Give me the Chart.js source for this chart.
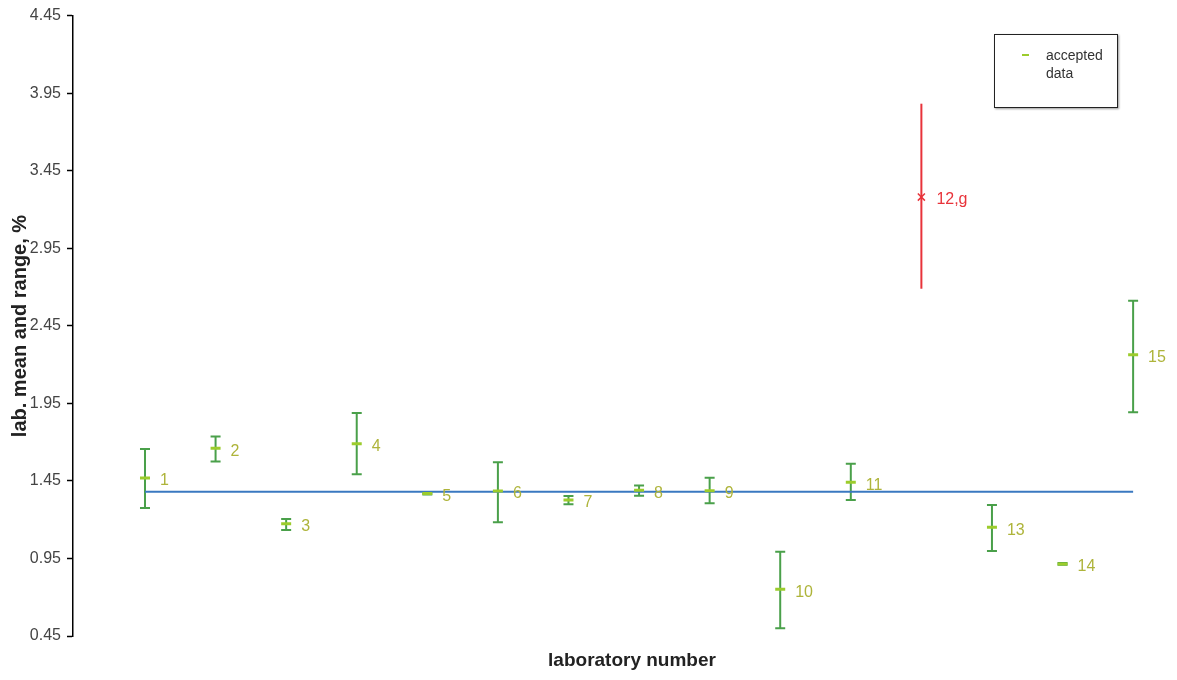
<!DOCTYPE html>
<html>
<head>
<meta charset="utf-8">
<script src="https://cdn.jsdelivr.net/npm/chart.js@4.4.1/dist/chart.umd.min.js"></script>
<style>
  body { margin: 0; background: #fff; }
  #wrap { position: relative; width: 1177px; height: 680px; }
  #legend {
    position: absolute; left: 994px; top: 34px; width: 122px; height: 72px;
    border: 1.5px solid #222; box-shadow: 1px 1px 2px #999; background: #fff;
    font: 14px "Liberation Sans", Arial, sans-serif; color: #333;
  }
  #legend .dash { position: absolute; left: 27px; top: 19px; width: 7px; height: 2px; background: #9ccc2c; }
  #legend .txt { position: absolute; left: 51px; top: 11px; line-height: 18px; }
</style>
</head>
<body>
<div id="wrap">
  <canvas id="chart" width="1177" height="680"></canvas>
  <div id="legend"><span class="dash"></span><span class="txt">accepted<br>data</span></div>
</div>
<script>
// lab results
const labs   = [1, 2, 3, 4, 5, 6, 7, 8, 9, 10, 11, 12, 13, 14, 15];
const means  = [1.469, 1.661, 1.173, 1.689, 1.368, 1.385, 1.327, 1.390, 1.387, 0.751, 1.442, 3.280, 1.151, 0.915, 2.263];
const lows   = [1.276, 1.575, 1.134, 1.493, 1.363, 1.184, 1.300, 1.355, 1.306, 0.500, 1.327, 2.689, 0.998, 0.910, 1.893];
const highs  = [1.655, 1.736, 1.205, 1.887, 1.373, 1.571, 1.353, 1.420, 1.471, 0.994, 1.560, 3.882, 1.295, 0.920, 2.611];
const pointLabels = ['1', '2', '3', '4', '5', '6', '7', '8', '9', '10', '11', '12,g', '13', '14', '15'];
const rejected = [12];
const grandMean = 1.38;
const yTicks = [0.45, 0.95, 1.45, 1.95, 2.45, 2.95, 3.45, 3.95, 4.45];

const GREEN = '#4aa04a';
const LIME = '#9ccc2c';
const RED = '#e8333a';
const FONT = '"Liberation Sans", Arial, sans-serif';

const accepted = labs.filter(l => !rejected.includes(l)).map(l => ({x: l, y: means[l - 1]}));
const outliers = rejected.map(l => ({x: l, y: means[l - 1]}));

// draws range bars + lab numbers using the chart scales
const errorBars = {
  id: 'errorBars',
  beforeDatasetsDraw(chart) {
    const {ctx, scales: {x, y}} = chart;
    ctx.save();
    labs.forEach((lab, i) => {
      const bad = rejected.includes(lab);
      const px = x.getPixelForValue(lab);
      const top = y.getPixelForValue(highs[i]);
      const bot = y.getPixelForValue(lows[i]);
      ctx.strokeStyle = bad ? RED : GREEN;
      ctx.lineWidth = 2;
      ctx.beginPath();
      ctx.moveTo(px, top); ctx.lineTo(px, bot);
      if (!bad) {
        ctx.moveTo(px - 5, top); ctx.lineTo(px + 5, top);
        ctx.moveTo(px - 5, bot); ctx.lineTo(px + 5, bot);
      }
      ctx.stroke();
    });
    ctx.restore();
  },
  afterDatasetsDraw(chart) {
    const {ctx, scales: {x, y}} = chart;
    ctx.save();
    ctx.font = '16px ' + FONT;
    ctx.textBaseline = 'middle';
    labs.forEach((lab, i) => {
      ctx.fillStyle = rejected.includes(lab) ? RED : '#aeb43a';
      ctx.fillText(pointLabels[i], x.getPixelForValue(lab) + 15, y.getPixelForValue(means[i]) + 3);
    });
    ctx.fillStyle = '#222';
    ctx.textAlign = 'center';
    ctx.font = 'bold 19px ' + FONT;
    ctx.fillText('laboratory number', 632, 661);
    // y title sits over the tick labels like the original
    ctx.translate(20, 326);
    ctx.rotate(-Math.PI / 2);
    ctx.font = 'bold 20px ' + FONT;
    ctx.fillText('lab. mean and range, %', 0, 0);
    ctx.restore();
  }
};

new Chart(document.getElementById('chart'), {
  type: 'scatter',
  data: {
    datasets: [
      {
        type: 'line', label: 'mean', data: [{x: labs[0], y: grandMean}, {x: labs[labs.length - 1], y: grandMean}],
        borderColor: '#3a78c0', borderWidth: 2, pointRadius: 0, order: 3
      },
      {
        label: 'accepted data', data: accepted,
        pointStyle: 'line', pointRadius: 5, borderColor: LIME, borderWidth: 3, order: 1
      },
      {
        label: 'rejected', data: outliers,
        pointStyle: 'crossRot', pointRadius: 5, borderColor: RED, borderWidth: 1.5, order: 1
      }
    ]
  },
  options: {
    responsive: false,
    devicePixelRatio: 1,
    animation: false,
    layout: { padding: { top: 10, right: 10, left: 0, bottom: 44 } },
    plugins: { legend: { display: false }, tooltip: { enabled: false } },
    scales: {
      x: {
        type: 'linear', min: -0.02, max: 15.48,
        display: false
      },
      y: {
        min: 0.45, max: 4.45,
        afterBuildTicks: (scale) => { scale.ticks = yTicks.map(v => ({value: v})); },
        afterFit: (scale) => { scale.width = 73; },
        grid: { display: true, drawOnChartArea: false, drawTicks: true, tickLength: 6, color: '#000', tickColor: '#000', tickWidth: 1.5 },
        border: { display: true, color: '#000', width: 1.5 },
        ticks: { color: '#444', padding: 6, font: { family: FONT, size: 16 }, callback: v => v.toFixed(2) }
      }
    }
  },
  plugins: [errorBars]
});
</script>
</body>
</html>
